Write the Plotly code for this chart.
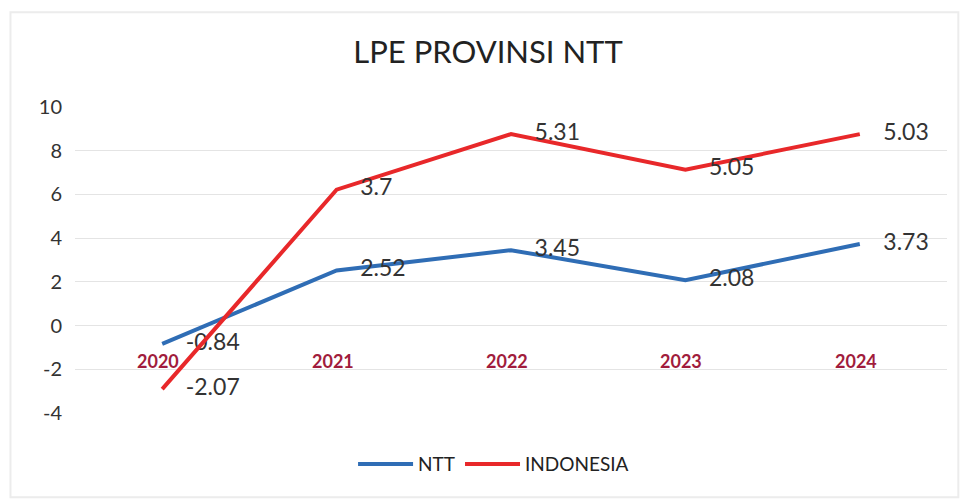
import plotly.graph_objects as go

years = ["2020", "2021", "2022", "2023", "2024"]
ntt = [-0.84, 2.52, 3.45, 2.08, 3.73]
indonesia = [-2.07, 3.7, 5.31, 5.05, 5.03]
y_ticks = [-4, -2, 0, 2, 4, 6, 8, 10]

BLUE = "#2F6DB5"
RED = "#E8282A"
FONT = "Lato, 'Open Sans', sans-serif"

fig = go.Figure()

# stacked lines (no fill), labels show each series' own value
for name, vals, color in [("NTT", ntt, BLUE), ("INDONESIA", indonesia, RED)]:
    fig.add_trace(go.Scatter(
        x=years, y=vals, name=name, stackgroup="s", fill="none",
        mode="lines+text", line=dict(color=color, width=4),
        text=["    " + f"{v:g}" for v in vals], textposition="middle right",
        textfont=dict(size=23, color="#333333", family=FONT),
        cliponaxis=False,
    ))

# category labels sit inside the plot just below zero
for i, yr in enumerate(years):
    fig.add_annotation(x=i, y=-1.6, xref="x", yref="y", text="<b>" + yr + "</b>",
                       showarrow=False, xshift=-4,
                       font=dict(size=18, color="#A11C3C", family=FONT))

# page body has an 8px margin, so the figure is a bit smaller than the window
fig.update_layout(
    width=960, height=495,
    paper_bgcolor="white", plot_bgcolor="white",
    margin=dict(l=67, r=21, t=99, b=90, autoexpand=False),
    title=dict(text="LPE PROVINSI NTT", x=0.5, xanchor="center",
               y=0.911, yref="container", yanchor="middle",
               font=dict(size=31, color="#222222", family=FONT)),
    font=dict(family=FONT, color="#333333"),
    showlegend=True,
    legend=dict(orientation="h", x=0.48, xanchor="center", y=-0.167, yanchor="middle",
                font=dict(size=19, color="#222222", family=FONT),
                itemwidth=55, traceorder="normal"),
    xaxis=dict(type="category", range=[-0.5, 4.5], showticklabels=False,
               showgrid=False, zeroline=False, showline=False, automargin=False),
    yaxis=dict(range=[-4, 10], tickvals=y_ticks, ticktext=[str(v) for v in y_ticks],
               showgrid=True, gridcolor="#E4E4E4",
               gridwidth=1, zeroline=False, showline=False, automargin=False,
               tickfont=dict(size=20, color="#333333", family=FONT),
               ticks="", ticklabelstandoff=12),
    shapes=[dict(type="rect", xref="paper", yref="paper", x0=-0.074, x1=1.013,
                 y0=-0.275, y1=1.31, line=dict(color="#ECECEC", width=2))],
)

fig.write_html("out.html")
